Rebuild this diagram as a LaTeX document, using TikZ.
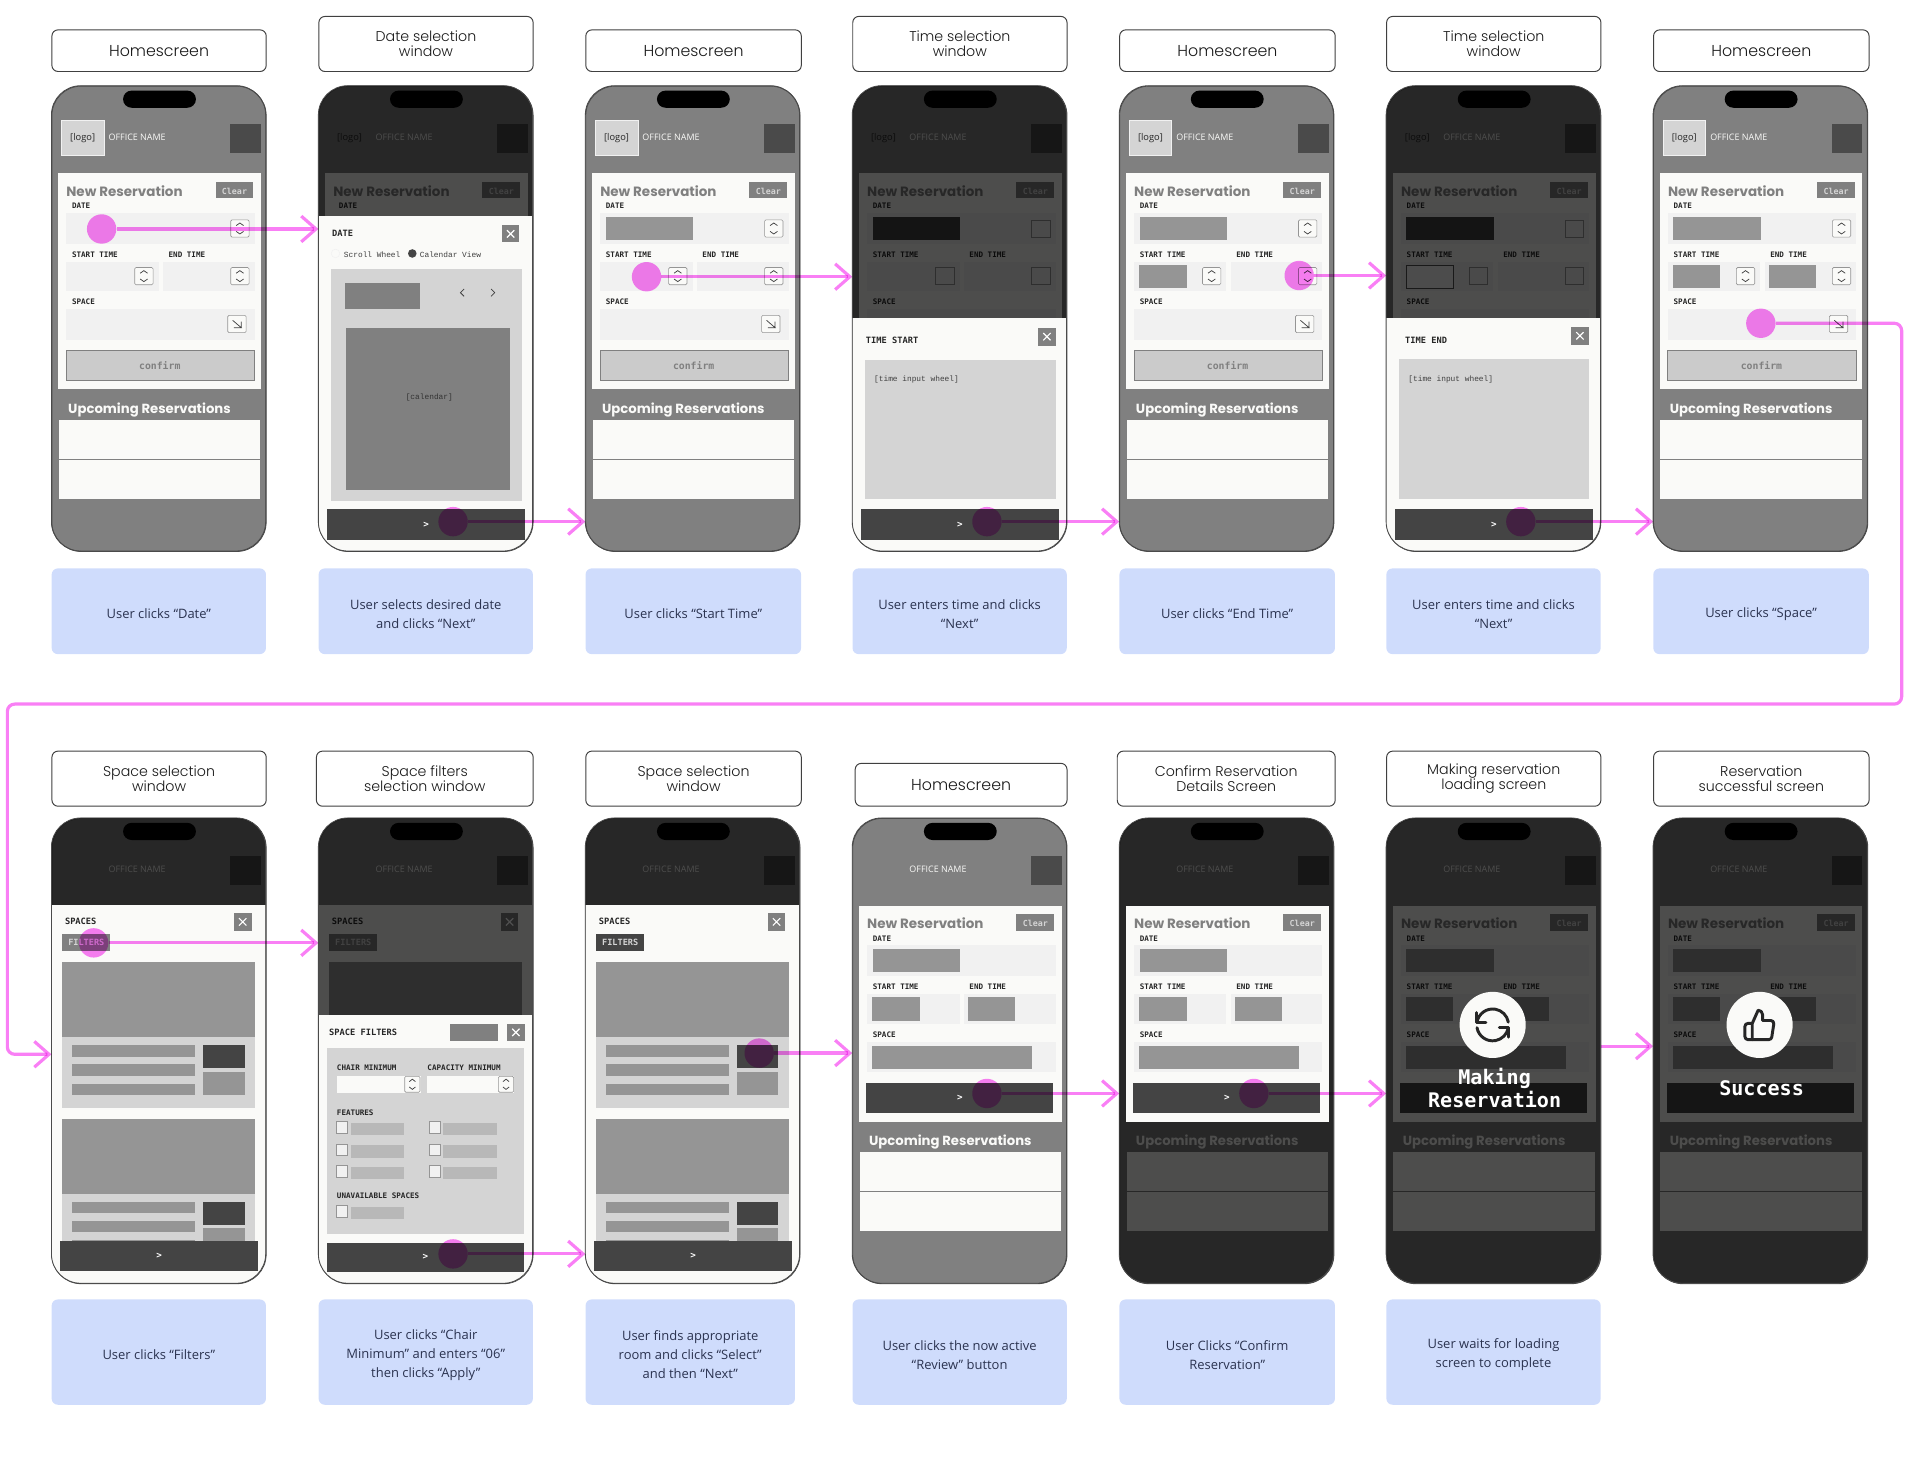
\documentclass[tikz,border=0pt]{standalone}
\usepackage{fontspec}
\usetikzlibrary{arrows.meta}
\setmainfont{Open Sans}
\newfontfamily\labfam{Poppins}[UprightFont=* Light,BoldFont=* Bold]
\newfontfamily\headfam{Poppins}
\newfontfamily\bodyfam{Open Sans}
\newfontfamily\monofam{Liberation Mono}
\newfontfamily\monobold{DejaVu Sans Mono}
\definecolor{pinkc}{HTML}{F97FF5}
\definecolor{paper}{HTML}{FAFAF8}
\definecolor{gA}{HTML}{808080}
\definecolor{gB}{HTML}{444444}
\definecolor{gC}{HTML}{959595}
\definecolor{gD}{HTML}{D4D4D4}
\definecolor{gE}{HTML}{F1F1F1}
\definecolor{gF}{HTML}{4A4A4A}
\definecolor{gG}{HTML}{B8B8B8}
\definecolor{gH}{HTML}{CBCBCB}
\definecolor{bluec}{HTML}{CFDCFC}
\definecolor{inkc}{HTML}{2B3350}
\newcount\nodeno
\tikzset{
  tx/.style={inner sep=0pt,anchor=west,yshift=-.8pt},
  monob/.style={tx,text=black!85,font=\monobold\bfseries\fontsize{6.2}{7}\selectfont},
  monot/.style={tx,text=black!85,font=\monobold\bfseries\fontsize{7.1}{8}\selectfont},
  monor/.style={tx,text=black!75,font=\monofam\fontsize{6.4}{7}\selectfont},
  heading/.style={tx,text=gA,font=\headfam\bfseries\fontsize{11}{12}\selectfont},
  upc/.style={tx,text=paper,font=\headfam\bfseries\fontsize{10.8}{12}\selectfont},
  oname/.style={tx,text=paper,font=\bodyfam\fontsize{7.3}{8}\selectfont},
  logot/.style={inner sep=0pt,yshift=-1.5pt,text=black!85,font=\bodyfam\fontsize{7.6}{8}\selectfont},
  clr/.style={inner sep=0pt,yshift=-.5pt,text=gD,font=\monobold\bfseries\fontsize{6.8}{8}\selectfont},
  conf/.style={inner sep=0pt,text=gA,font=\monobold\bfseries\fontsize{8}{9}\selectfont},
  barchev/.style={inner sep=0pt,text=white,font=\monobold\bfseries\fontsize{7.5}{8}\selectfont},
  filt/.style={inner sep=0pt,text=gD,font=\monobold\bfseries\fontsize{7}{8}\selectfont},
  bigmono/.style={inner sep=0pt,text=white,align=center,font=\monobold\bfseries\fontsize{16.4}{18}\selectfont},
  phonebox/.style={draw=gF,line width=.7pt,fill=gA,rounded corners=24pt,anchor=north west,inner sep=0pt,minimum width=175pt,minimum height=380pt},
  phoneline/.style={draw=gF,line width=.7pt,rounded corners=24pt},
  labelbox/.style={draw=black!75,line width=.8pt,fill=white,rounded corners=5pt,anchor=north west,inner sep=0pt,align=center,text=black!90,font=\labfam\fontsize{11.6}{12}\selectfont},
  bluebox/.style={fill=bluec,rounded corners=5pt,anchor=north west,inner sep=0pt},
  bluetext/.style={inner sep=0pt,yshift=-2.2pt,align=center,text=inkc,font=\bodyfam\fontsize{10.6}{15.4}\selectfont},
  tap/.style={circle,fill=pinkc,inner sep=0pt,minimum size=24pt,blend mode=multiply},
  flow/.style={draw=pinkc,line width=2.6pt,blend mode=multiply,-{Straight Barb[length=12pt,width=21pt,line width=2.6pt]}},
  stepbox/.style={draw=gC,line width=.5pt,fill=paper,rounded corners=1pt},
  chevl/.style={draw=black!75,line width=.6pt},
  xline/.style={draw=white,line width=.9pt},
  icon/.style={draw=black!85,line width=2.4pt,line cap=round,line join=round}
}
\newcommand\Tx[4][]{\global\advance\nodeno by 1 \node[#1] (n\the\nodeno) at (#2,#3) {#4};}
\newcommand\Stp[5]{% x y w h mode
  \ifnum#5=1
    \draw[stepbox] (#1,#2) rectangle ++(#3,#4);
    \draw[chevl] (#1+#3*.3,#2+#4*.33)--(#1+#3*.5,#2+#4*.18)--(#1+#3*.7,#2+#4*.33);
    \draw[chevl] (#1+#3*.3,#2+#4*.67)--(#1+#3*.5,#2+#4*.82)--(#1+#3*.7,#2+#4*.67);
  \fi
  \ifnum#5=2
    \draw[draw=gC,line width=.5pt,fill=gE] (#1,#2) rectangle ++(#3,#4);
  \fi}
\newcommand\ArrowBtn[3]{% x y mode
  \ifnum#3=1
    \draw[stepbox] (#1,#2) rectangle ++(15,14);
    \draw[chevl] (#1+4,#2+4)--(#1+11,#2+10)--(#1+5,#2+10) (#1+11,#2+10)--(#1+11,#2+5);
  \fi}
\newcommand\Head[1]{%
  \ifnum#1=1 \draw[draw=gE,line width=.6pt,fill=gD] (8,28) rectangle (43,57);\fi
  \ifnum#1>0 \Tx[logot]{25.5}{41.5}{[logo]}\fi
  \Tx[oname]{46.5}{41.5}{OFFICE NAME}
  \fill[gF] (146,31) rectangle (171,55);
  \fill[black,rounded corners=7pt] (58.5,4) rectangle (118,18);}
% top of the card (down to the DATE label)
\newcommand\CardA{%
  \fill[paper] (5.5,71.5) rectangle (171,248);
  \Tx[heading]{12}{85}{New Reservation}
  \fill[gA] (134,78.5) rectangle (165,92);
  \Tx[clr]{149.5}{85.5}{Clear}
  \Tx[monob]{16.6}{97.5}{DATE}}
% fields: date start end space stepmode
\newcommand\CardB[5]{%
  \fill[gE] (12,104) rectangle (166,129);
  \ifnum#1=1 \fill[gC] (16.6,107) rectangle (88,126);\fi
  \Stp{146.4}{109.6}{15}{14}{#5}
  \Tx[monob]{16.6}{137}{START TIME}
  \Tx[monob]{95.5}{137}{END TIME}
  \fill[gE] (12,143.6) rectangle (87.6,168);
  \fill[gE] (91,143.6) rectangle (166,168);
  \ifnum#2=1 \fill[gC] (16.4,146.5) rectangle (55,165.5);\fi
  \ifnum#3=1 \fill[gC] (94.5,146.5) rectangle (133,165.5);\fi
  \Stp{68}{148.5}{15}{14}{#5}
  \Stp{146.4}{148.5}{15}{14}{#5}
  \Tx[monob]{16.6}{176}{SPACE}
  \fill[gE] (12,182.6) rectangle (166,207.5);
  \ifnum#4=1 \fill[gC] (16.5,186) rectangle (147,205);\fi
  \ArrowBtn{144}{187.6}{#5}}
% button: 0 confirm, 1 dark with chevron, 2 dark and plain
\newcommand\CardC[1]{%
  \ifnum#1=0
    \draw[draw=gA,line width=.6pt,fill=gH] (12,216) rectangle (166,241);
    \Tx[conf]{88.5}{228.7}{confirm}
  \else
    \fill[gB] (11.5,216.6) rectangle (164,240.7);
    \ifnum#1=1 \Tx[barchev]{88}{228.7}{>}\fi
  \fi}
\newcommand\Card[6]{\CardA\CardB{#1}{#2}{#3}{#4}{#5}\CardC{#6}}
\newcommand\Upc{%
  \Tx[upc]{13.5}{263.8}{Upcoming Reservations}
  \fill[paper] (6,273) rectangle (170.6,304.6);
  \fill[paper] (6,305.7) rectangle (170.6,337.6);}
\newcommand\Dim{\fill[black,opacity=.69,rounded corners=24pt] (0,0) rectangle (175,380);}
\newcommand\Outl{\draw[phoneline] (0,0) rectangle (175,380);}
\newcommand\Sheet[1]{\begin{scope}\clip[rounded corners=24pt] (0,0) rectangle (175,380);\fill[paper] (0,#1) rectangle (175,380);\end{scope}}
\newcommand\BarB[2]{\fill[gB] (7.3,#1) rectangle (169,#2);\Tx[barchev]{88}{#1/2+#2/2}{>}}
\newcommand\XBtn[4]{\fill[gA] (#1,#2) rectangle (#3,#4);
  \draw[xline] (#1/2+#3/2-3,#2/2+#4/2-3)--(#1/2+#3/2+3,#2/2+#4/2+3) (#1/2+#3/2-3,#2/2+#4/2+3)--(#1/2+#3/2+3,#2/2+#4/2-3);}
\newcommand\Home[6]{\Head{1}\Card{#1}{#2}{#3}{#4}{#5}{#6}\Upc\Outl}
\newcommand\SpaceSheet[1]{%
  \Sheet{71}
  \Tx[monot]{10.9}{84}{SPACES}
  \XBtn{149}{77.7}{163.4}{92}
  \fill[#1] (9,95) rectangle (48,109);
  \Tx[filt]{28.5}{102}{FILTERS}
  \fill[gC] (9,118) rectangle (166,179);
  \fill[gD] (9,179) rectangle (166,236.7);
  \fill[gC] (16.6,185) rectangle (117.4,195);
  \fill[gC] (16.6,201) rectangle (117.4,211);
  \fill[gC] (16.6,217) rectangle (117.4,226.5);
  \fill[gB] (124,185.5) rectangle (157.7,204);
  \fill[gC] (124,207.5) rectangle (157.7,226);
  \fill[gC] (9,246) rectangle (166,307);
  \fill[gD] (9,307) rectangle (166,346);
  \fill[gC] (16.6,313.6) rectangle (117.4,322.7);
  \fill[gC] (16.6,329) rectangle (117.4,338.5);
  \fill[gC] (16.6,344.6) rectangle (117.4,346);
  \fill[gB] (124,313.6) rectangle (157.7,332);
  \fill[gC] (124,335) rectangle (157.7,346);}
\newcommand\ChkBox[3]{\draw[draw=gC,line width=.5pt,fill=gE] (#1,#2) rectangle ++(9,9.3);
  \fill[gG] (#1+11.5,#2+1) rectangle ++(#3,10);}
\newcommand\SyncIcon{%
  \begin{scope}[shift={(87,169)},x=1pt,y=1pt]
    \draw[icon] (170:13) arc[start angle=170,end angle=10,radius=13];
    \draw[icon] (190:13) arc[start angle=190,end angle=350,radius=13];
    \draw[icon] (-13,10)--(-13,2.3)--(-5.5,2.3);
    \draw[icon] (13,-10)--(13,-2.3)--(5.5,-2.3);
  \end{scope}}
\newcommand\ThumbIcon{%
  \begin{scope}[shift={(87,169)},x=1.2pt,y=-1.2pt,shift={(-12,-12)}]
    \draw[icon] (14,9)--(14,5) .. controls (14,3.3) and (12.7,2) .. (11,2) -- (7,11) -- (7,22) -- (18.28,22) .. controls (19.3,22) and (20.1,21.3) .. (20.28,20.3) -- (21.66,11.3) .. controls (21.85,10.1) and (20.9,9) .. (19.66,9) -- cycle;
    \draw[icon] (7,22)--(4,22) .. controls (2.9,22) and (2,21.1) .. (2,20) -- (2,13) .. controls (2,11.9) and (2.9,11) .. (4,11) -- (7,11);
  \end{scope}}
\newcommand\LBox[6]{\pgfmathsetmacro\boxw{#4-#2}\pgfmathsetmacro\boxh{#5-#3}\node[#6,minimum width=\boxw pt,minimum height=\boxh pt] (#1) at (#2,#3)}
\newcommand\CBox[5]{\pgfmathsetmacro\boxw{#4-#2}\pgfmathsetmacro\boxh{#5-#3}\node[bluebox,minimum width=\boxw pt,minimum height=\boxh pt] (#1) at (#2,#3) {};\node[bluetext] (#1t) at (#1.center)}
\begin{document}
\begin{tikzpicture}[x=1pt,y=-1pt]
\useasboundingbox (0,0) rectangle (1568,1203.7);
% labels row 1
\LBox{la}{42}{24}{217}{58}{labelbox}{\fontsize{12.9}{14}\selectfont Homescreen};
\LBox{lb}{260}{13}{435}{58}{labelbox}{Date selection\\window};
\LBox{lc}{478}{24}{654}{58}{labelbox}{\fontsize{12.9}{14}\selectfont Homescreen};
\LBox{ld}{696}{13}{871}{58}{labelbox}{Time selection\\window};
\LBox{le}{914}{24}{1090}{58}{labelbox}{\fontsize{12.9}{14}\selectfont Homescreen};
\LBox{lf}{1132}{13}{1307}{58}{labelbox}{Time selection\\window};
\LBox{lg}{1350}{24}{1526}{58}{labelbox}{\fontsize{12.9}{14}\selectfont Homescreen};
% labels row 2
\LBox{lh}{42}{613}{217}{658}{labelbox}{Space selection\\window};
\LBox{li}{258}{613}{435}{658}{labelbox}{Space filters\\selection window};
\LBox{lj}{478}{613}{654}{658}{labelbox}{Space selection\\window};
\LBox{lk}{698}{623}{871}{658}{labelbox}{\fontsize{12.9}{14}\selectfont Homescreen};
\LBox{ll}{912}{613}{1090}{658}{labelbox}{Confirm Reservation\\Details Screen};
\LBox{lm}{1132}{613}{1307}{658}{labelbox}{Making reservation\\loading screen};
\LBox{ln}{1350}{613}{1526}{658}{labelbox}{Reservation\\successful screen};
% captions row 1
\CBox{ba}{42}{464}{217}{534}{User clicks “Date”};
\CBox{bb}{260}{464}{435}{534}{User selects desired date\\and clicks “Next”};
\CBox{bc}{478}{464}{654}{534}{User clicks “Start Time”};
\CBox{bd}{696}{464}{871}{534}{User enters time and clicks\\“Next”};
\CBox{be}{914}{464}{1090}{534}{User clicks “End Time”};
\CBox{bf}{1132}{464}{1307}{534}{User enters time and clicks\\“Next”};
\CBox{bg}{1350}{464}{1526}{534}{User clicks “Space”};
% captions row 2
\CBox{bh}{42}{1061}{217}{1147}{User clicks “Filters”};
\CBox{bi}{260}{1061}{435}{1147}{User clicks “Chair\\Minimum” and enters “06”\\then clicks “Apply”};
\CBox{bj}{478}{1061}{649}{1147}{User finds appropriate\\room and clicks “Select”\\and then “Next”};
\CBox{bk}{696}{1061}{871}{1147}{User clicks the now active\\“Review” button};
\CBox{bl}{914}{1061}{1090}{1147}{User Clicks “Confirm\\Reservation”};
\CBox{bm}{1132}{1061}{1307}{1147}{User waits for loading\\screen to complete};
% phones row 1
\node[phonebox] (p1) at (42,70) {};
\begin{scope}[shift={(42,70)}]\Home{0}{0}{0}{0}{1}{0}\end{scope}
\node[phonebox] (p2) at (260,70) {};
\begin{scope}[shift={(260,70)}]
  \Head{2}\CardA\Dim
  \Sheet{106}
  \Tx[monot]{11}{120}{DATE}
  \XBtn{150}{114}{164}{128}
  \draw[draw=gE,line width=.4pt,fill=paper] (14,137) circle (3.5);
  \Tx[monor]{20.7}{137}{Scroll Wheel}
  \fill[gB] (76.7,137) circle (3.5);
  \Tx[monor]{82.7}{137}{Calendar View}
  \fill[gD] (10.3,150) rectangle (166,339);
  \fill[gA] (21.8,161) rectangle (83,182.6);
  \draw[chevl] (119,166)--(116,169)--(119,172);
  \draw[chevl] (141,166)--(144,169)--(141,172);
  \fill[gA] (22.6,197.5) rectangle (156.8,330);
  \Tx[monor,anchor=center,text=black!80]{90.6}{254}{[calendar]}
  \BarB{346}{370.6}
  \Outl
\end{scope}
\node[phonebox] (p3) at (478,70) {};
\begin{scope}[shift={(478,70)}]\Home{1}{0}{0}{0}{1}{0}\end{scope}
\node[phonebox] (p4) at (696,70) {};
\begin{scope}[shift={(696,70)}]
  \Head{2}\CardA\CardB{1}{0}{0}{0}{2}\Dim
  \fill[black!92] (16.6,107) rectangle (88,126);
  \Sheet{190}
  \Tx[monot]{11}{207.5}{TIME START}
  \XBtn{152}{197.5}{166}{212.4}
  \fill[gD] (10.3,224) rectangle (166,337.6);
  \Tx[monor]{17.7}{239}{[time input wheel]}
  \BarB{346}{370.6}
  \Outl
\end{scope}
\node[phonebox] (p5) at (914,70) {};
\begin{scope}[shift={(914,70)}]\Home{1}{1}{0}{0}{1}{0}\end{scope}
\node[phonebox] (p6) at (1132,70) {};
\begin{scope}[shift={(1132,70)}]
  \Head{2}\CardA\CardB{1}{1}{0}{0}{2}\Dim
  \fill[black!92] (16.6,107) rectangle (88,126);
  \draw[draw=black!90,line width=.8pt,fill=black!70] (16.4,146.5) rectangle (55,165.5);
  \Sheet{190}
  \Tx[monot]{15.4}{207.5}{TIME END}
  \XBtn{151}{197}{165.5}{211.5}
  \fill[gD] (10.6,223.5) rectangle (165.5,337.6);
  \Tx[monor]{18}{239}{[time input wheel]}
  \BarB{346}{370.6}
  \Outl
\end{scope}
\node[phonebox] (p7) at (1350,70) {};
\begin{scope}[shift={(1350,70)}]\Home{1}{1}{1}{0}{1}{0}\end{scope}
% phones row 2
\node[phonebox] (p8) at (42,668) {};
\begin{scope}[shift={(42,668)}]
  \Head{0}\Dim\SpaceSheet{gA}\BarB{345.7}{370}\Outl
\end{scope}
\node[phonebox] (p9) at (260,668) {};
\begin{scope}[shift={(260,668)}]
  \Head{0}\Dim\SpaceSheet{gA}
  \fill[black,opacity=.69] (0,71) rectangle (175,161);
  \Sheet{161}
  \Tx[monot]{8.6}{174.5}{SPACE FILTERS}
  \fill[gA] (107.4,168) rectangle (146.3,182.2);
  \XBtn{154}{168}{168.6}{182.2}
  \fill[gD] (7,188) rectangle (168.3,340);
  \Tx[monob]{15}{203.5}{CHAIR MINIMUM}
  \Tx[monob]{88.9}{203.5}{CAPACITY MINIMUM}
  \fill[paper] (15,210.4) rectangle (83.7,225);
  \Stp{70.5}{211}{12.5}{13}{1}
  \fill[paper] (89,210.4) rectangle (160,225);
  \Stp{147}{211}{12.5}{13}{1}
  \Tx[monob]{15}{240}{FEATURES}
  \ChkBox{15}{248}{43.5}\ChkBox{15}{266.3}{43.5}\ChkBox{15}{284}{43.5}
  \ChkBox{90.6}{248}{43.5}\ChkBox{90.6}{266.3}{43.5}\ChkBox{90.6}{284}{43.5}
  \Tx[monob]{15}{308}{UNAVAILABLE SPACES}
  \ChkBox{15}{316.6}{43.5}
  \fill[gB] (7,346.8) rectangle (168.3,370.5);
  \Tx[barchev]{87.4}{358.5}{>}
  \Outl
\end{scope}
\node[phonebox] (p10) at (478,668) {};
\begin{scope}[shift={(478,668)}]
  \Head{0}\Dim\SpaceSheet{gB}\BarB{345.7}{370}\Outl
\end{scope}
\node[phonebox] (p11) at (696,668) {};
\begin{scope}[shift={(696,668)}]\Head{0}\Card{1}{1}{1}{1}{0}{1}\Upc\Outl\end{scope}
\node[phonebox] (p12) at (914,668) {};
\begin{scope}[shift={(914,668)}]
  \Head{0}\Upc\Dim
  \Card{1}{1}{1}{1}{0}{1}\Outl
\end{scope}
\node[phonebox] (p13) at (1132,668) {};
\begin{scope}[shift={(1132,668)}]
  \Head{0}\Card{1}{1}{1}{1}{0}{2}\Upc\Dim
  \fill[paper] (87,169) circle (27);
  \SyncIcon
  \Tx[bigmono]{88.6}{220.5}{Making\\Reservation}
  \Outl
\end{scope}
\node[phonebox] (p14) at (1350,668) {};
\begin{scope}[shift={(1350,668)}]
  \Head{0}\Card{1}{1}{1}{1}{0}{2}\Upc\Dim
  \fill[paper] (87,169) circle (27);
  \ThumbIcon
  \Tx[bigmono]{88.6}{221}{Success}
  \Outl
\end{scope}
% taps
\node[tap] (t1) at (83,187) {};
\node[tap] (t2) at (370,426) {};
\node[tap] (t3) at (528,226) {};
\node[tap] (t4) at (806,426) {};
\node[tap] (t5) at (1061,225) {};
\node[tap] (t6) at (1242,426) {};
\node[tap] (t7) at (1438,264) {};
\node[tap] (t8) at (76.5,770) {};
\node[tap] (t9) at (370,1024) {};
\node[tap] (t10) at (620,860) {};
\node[tap] (t11) at (806,893) {};
\node[tap] (t12) at (1024,893) {};
\coordinate (cr) at (1553,575);
\coordinate (cl) at (6,575);
\coordinate (cb) at (6,861);
% connectors
\draw[flow] (t1) -- (t1 -| p2.west);
\draw[flow] (t2) -- (t2 -| p3.west);
\draw[flow] (t3) -- (t3 -| p4.west);
\draw[flow] (t4) -- (t4 -| p5.west);
\draw[flow] (t5) -- (t5 -| p6.west);
\draw[flow] (t6) -- (t6 -| p7.west);
\draw[flow,rounded corners=6pt] (t7) -- (t7 -| cr) -- (cr) -- (cl) -- (cb) -- (cb -| p8.west);
\draw[flow] (t8) -- (t8 -| p9.west);
\draw[flow] (t9) -- (t9 -| p10.west);
\draw[flow] (t10) -- (t10 -| p11.west);
\draw[flow] (t11) -- (t11 -| p12.west);
\draw[flow] (t12) -- (t12 -| p13.west);
\draw[flow] ([yshift=4pt]p13.east) -- ([yshift=4pt]p14.west);
\end{tikzpicture}
\end{document}
